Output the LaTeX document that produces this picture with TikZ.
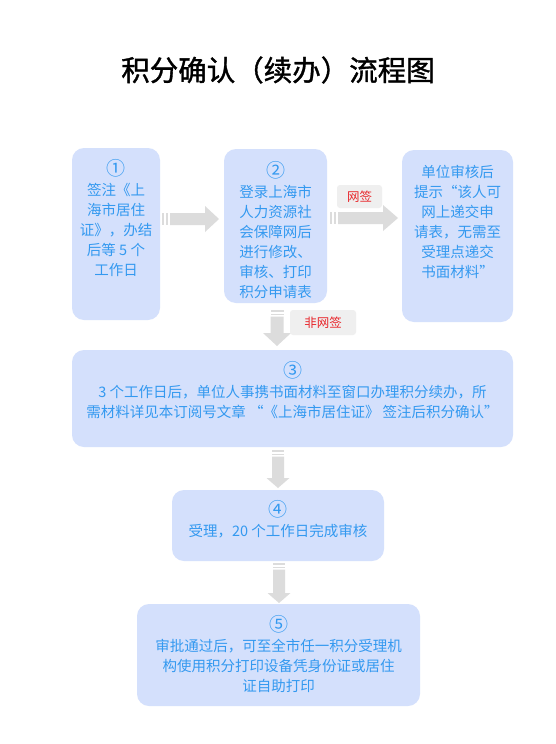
\documentclass[tikz,border=0pt]{standalone}
\usepackage{fontspec}
\setmainfont{Noto Sans CJK SC}
\newfontfamily\titlefont[FakeBold=1.2]{Noto Sans CJK SC}
\definecolor{boxfill}{HTML}{D4E0FC}
\definecolor{boxtext}{HTML}{3399F0}
\definecolor{arrowgray}{HTML}{DCDCDC}
\definecolor{labelfill}{HTML}{EFEFEF}
\definecolor{labelred}{HTML}{E8262B}
\newcommand\circnum[1]{{\fontsize{19}{20}\selectfont #1}}
\begin{document}
\begin{tikzpicture}[x=1pt,y=-1pt,
  box/.style={fill=boxfill, draw=none, rounded corners=12pt, inner sep=0pt},
  btext/.style={text=boxtext, align=center, inner sep=0pt, anchor=north,
    font=\fontsize{14.5}{20}\selectfont},
  blk/.style={fill=arrowgray, draw=none},
  lbl/.style={fill=labelfill, rounded corners=3pt, text=labelred, inner sep=0pt,
    font=\fontsize{12.5}{14}\selectfont}]
\useasboundingbox[fill=white] (0,0) rectangle (556,744);

% title
\node[inner sep=0pt, font=\titlefont\fontsize{28.5}{32}\selectfont] (title) at (278,70) {积分确认（续办）流程图};

% boxes
\node[box, minimum width=88pt, minimum height=172pt] (b1) at (116,234) {};
\node[box, minimum width=103pt, minimum height=154pt] (b2) at (275.5,226) {};
\node[box, minimum width=111pt, minimum height=172pt] (b3) at (457.5,236) {};
\node[box, minimum width=441pt, minimum height=97pt] (b4) at (292.5,398.5) {};
\node[box, minimum width=212pt, minimum height=71pt] (b5) at (278,525.5) {};
\node[box, minimum width=283pt, minimum height=102pt] (b6) at (278.5,655) {};

% texts
\node[btext] (t1) at (116,159.5) {\circnum{①}\\签注《上\\海市居住\\证》，办结\\后等 5 个\\工作日};
\node[btext] (t2) at (275.5,161) {\circnum{②}\\登录上海市\\人力资源社\\会保障网后\\进行修改、\\审核、打印\\积分申请表};
\node[btext] (t3) at (457.5,165) {单位审核后\\提示“该人可\\网上递交申\\请表，无需至\\受理点递交\\书面材料”};
\node[btext] (t4) at (292.5,361) {\circnum{③}\\3 个工作日后，单位人事携书面材料至窗口办理积分续办，所\\需材料详见本订阅号文章 “《上海市居住证》 签注后积分确认”};
\node[btext] (t5) at (278,500) {\circnum{④}\\受理，20 个工作日完成审核};
\node[btext] (t6) at (278.5,615) {\circnum{⑤}\\审批通过后，可至全市任一积分受理机\\构使用积分打印设备凭身份证或居住\\证自助打印};

% arrow b1 -> b2
\fill[blk] (162,213) rectangle (164,225);
\fill[blk] (166,213) rectangle (168,225);
\fill[blk] (170,213) -- (205,213) -- (205,206) -- (219,219) -- (205,232) -- (205,225) -- (170,225) -- cycle;

% arrow b2 -> b3
\fill[blk] (330,212) rectangle (332,224);
\fill[blk] (334,212) rectangle (336,224);
\fill[blk] (338,212) -- (383,212) -- (383,205) -- (398,218) -- (383,231) -- (383,224) -- (338,224) -- cycle;
\node[lbl, minimum width=45pt, minimum height=23pt] (l1) at (359.5,196.5) {网签};

% arrow b2 -> b4
\fill[blk] (270.5,310) rectangle (283.5,312);
\fill[blk] (270.5,313.5) rectangle (283.5,315);
\fill[blk] (270.5,316.5) -- (283.5,316.5) -- (283.5,333) -- (291,333) -- (277,346) -- (263,333) -- (270.5,333) -- cycle;
\node[lbl, minimum width=66pt, minimum height=25pt] (l2) at (323,322.5) {非网签};

% arrow b4 -> b5
\fill[blk] (272,450) rectangle (284,452);
\fill[blk] (272,453.5) rectangle (284,455);
\fill[blk] (272,456.5) -- (284,456.5) -- (284,478) -- (289.5,478) -- (278,488) -- (266.5,478) -- (272,478) -- cycle;

% arrow b5 -> b6
\fill[blk] (273,563) rectangle (285,565);
\fill[blk] (273,566.5) rectangle (285,568);
\fill[blk] (273,569.5) -- (285,569.5) -- (285,593) -- (290.5,593) -- (279,603) -- (267.5,593) -- (273,593) -- cycle;
\end{tikzpicture}
\end{document}
